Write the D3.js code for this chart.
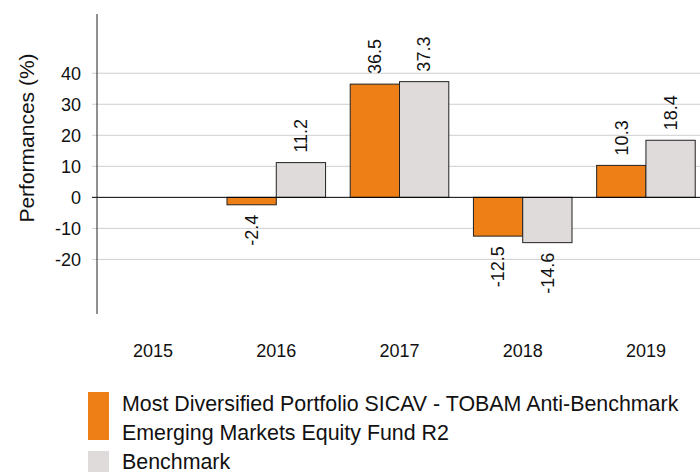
<!DOCTYPE html>
<html lang="en">
<head>
    <meta charset="UTF-8">
    <title>Performances</title>
    <script src="https://d3js.org/d3.v7.min.js"></script>
    <style>
        body { margin: 0; background: #fff; }
        svg { font-family: "Liberation Sans", Arial, sans-serif; display: block; }
    </style>
</head>
<body>
    <svg width="700" height="472"></svg>

    <script>
        // chart data
        const years = ["2015", "2016", "2017", "2018", "2019"];
        const fundValues = [null, -2.4, 36.5, -12.5, 10.3];
        const benchValues = [null, 11.2, 37.3, -14.6, 18.4];
        const yTicks = [-20, -10, 0, 10, 20, 30, 40];
        const seriesNames = ["fund", "bench"];
        const legendLines = [
            "Most Diversified Portfolio SICAV - TOBAM Anti-Benchmark",
            "Emerging Markets Equity Fund R2",
            "Benchmark"
        ];

        const colors = { fund: "#ee7f16", bench: "#dedbda" };

        const svg = d3.select("svg");
        const axisX = 97;

        const x = d3.scaleBand()
            .domain(years)
            .range([axisX, 702])
            .paddingInner(0.2)
            .paddingOuter(0.055);

        const xs = d3.scaleBand()
            .domain(seriesNames)
            .range([0, x.bandwidth()]);

        const y = d3.scaleLinear()
            .domain([-37.6, 59.1])
            .range([314, 14]);

        // gridlines
        svg.append("g")
            .selectAll("line")
            .data(yTicks.filter(t => t !== 0))
            .join("line")
            .attr("x1", axisX - 5)
            .attr("x2", 700)
            .attr("y1", d => y(d))
            .attr("y2", d => y(d))
            .attr("stroke", "#cfcfcf")
            .attr("stroke-width", 1);

        // tick labels
        svg.append("g")
            .selectAll("text")
            .data(yTicks)
            .join("text")
            .attr("x", 81)
            .attr("y", d => y(d))
            .attr("dy", "0.35em")
            .attr("text-anchor", "end")
            .attr("font-size", "18px")
            .attr("fill", "#111")
            .text(d => d);

        // y axis title
        svg.append("text")
            .attr("transform", `translate(27, 138) rotate(-90)`)
            .attr("text-anchor", "middle")
            .attr("dy", "0.35em")
            .attr("font-size", "21px")
            .attr("fill", "#111")
            .text("Performances (%)");

        // bars
        const rows = [];
        years.forEach((yr, i) => {
            rows.push({ year: yr, key: "fund", value: fundValues[i] });
            rows.push({ year: yr, key: "bench", value: benchValues[i] });
        });
        const valid = rows.filter(d => d.value !== null);

        svg.append("g")
            .selectAll("rect")
            .data(valid)
            .join("rect")
            .attr("x", d => x(d.year) + xs(d.key))
            .attr("width", xs.bandwidth())
            .attr("y", d => y(Math.max(0, d.value)))
            .attr("height", d => Math.abs(y(d.value) - y(0)))
            .attr("fill", d => colors[d.key])
            .attr("stroke", "#222")
            .attr("stroke-width", 1);

        // value labels
        svg.append("g")
            .selectAll("text")
            .data(valid)
            .join("text")
            .attr("transform", d => {
                const cx = x(d.year) + xs(d.key) + xs.bandwidth() / 2;
                const cy = d.value >= 0 ? y(d.value) - 10 : y(d.value) + 10;
                return `translate(${cx}, ${cy}) rotate(-90)`;
            })
            .attr("text-anchor", d => d.value >= 0 ? "start" : "end")
            .attr("dy", "0.35em")
            .attr("font-size", "18px")
            .attr("fill", "#111")
            .text(d => d.value.toFixed(1));

        // zero line + y axis
        svg.append("line")
            .attr("x1", axisX - 5).attr("x2", 700)
            .attr("y1", y(0)).attr("y2", y(0))
            .attr("stroke", "#000").attr("stroke-width", 1);
        svg.append("line")
            .attr("x1", axisX).attr("x2", axisX)
            .attr("y1", 14).attr("y2", 314)
            .attr("stroke", "#222").attr("stroke-width", 1);

        // year labels
        svg.append("g")
            .selectAll("text")
            .data(years)
            .join("text")
            .attr("x", d => x(d) + x.bandwidth() / 2)
            .attr("y", 357)
            .attr("text-anchor", "middle")
            .attr("font-size", "18px")
            .attr("fill", "#111")
            .text(d => d);

        // legend
        const legend = svg.append("g");
        legend.append("rect")
            .attr("x", 88).attr("y", 392)
            .attr("width", 21).attr("height", 48)
            .attr("fill", colors.fund);
        legend.append("rect")
            .attr("x", 88).attr("y", 451)
            .attr("width", 21).attr("height", 30)
            .attr("fill", colors.bench);
        legend.selectAll("text")
            .data(legendLines)
            .join("text")
            .attr("x", 122)
            .attr("y", (d, i) => 411 + i * 29)
            .attr("font-size", "21.4px")
            .attr("fill", "#111")
            .text(d => d);
    </script>
</body>
</html>
